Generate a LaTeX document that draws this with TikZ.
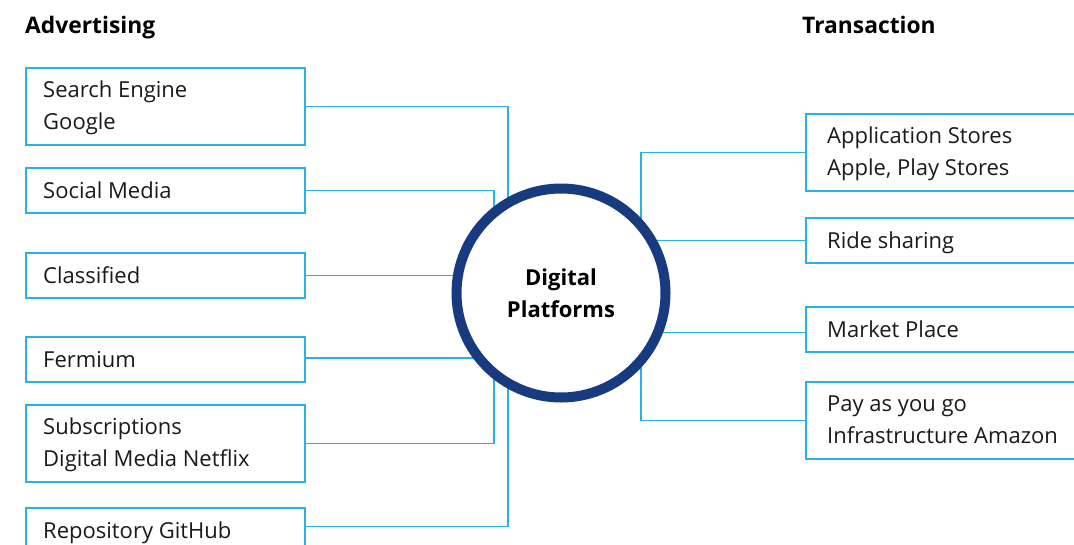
\documentclass[tikz,border=0pt]{standalone}
\usepackage{fontspec}
\setmainfont{Open Sans}
\usetikzlibrary{calc,backgrounds}
\definecolor{wire}{RGB}{41,176,230}
\definecolor{navy}{RGB}{24,58,126}
\definecolor{ink}{RGB}{26,26,26}
\begin{document}
\begin{tikzpicture}[x=1pt,y=-1pt,
  card/.style={draw=wire, line width=1.5pt, fill=white, minimum width=279pt,
    minimum height=45pt, inner sep=0pt, anchor=north west},
  tall/.style={minimum height=77pt},
  lbl/.style={font=\fontsize{22}{32}\selectfont, text=ink, inner sep=0pt,
    align=left, anchor=base west},
  head/.style={font=\fontsize{22.8}{32}\selectfont\bfseries, text=black,
    inner sep=0pt, anchor=base west},
  link/.style={draw=wire, line width=1.5pt},
  hub/.style={circle, draw=navy, line width=10pt, fill=white,
    minimum size=209pt, inner sep=0pt, align=center,
    font=\fontsize{22}{32}\selectfont\bfseries}
]
\useasboundingbox (0,0) rectangle (1074,544);
\clip (0,0) rectangle (1074,544);

% headings
\node[head] (adv) at (25,33) {Advertising};
\node[head] (trn) at (802,33) {Transaction};

% advertising boxes
\node[card, tall] (se)  at (25,67)  {};
\node[card]       (sm)  at (25,167) {};
\node[card]       (cl)  at (25,252) {};
\node[card]       (fe)  at (25,336) {};
\node[card, tall] (sub) at (25,404) {};
\node[card]       (gh)  at (25,507) {};

% labels sit on the baseline of their last line
\node[lbl] (se-t)  at ($(se.west)+(18,23.5)$)  {Search Engine\\Google};
\node[lbl] (sm-t)  at ($(sm.west)+(18,8)$)     {Social Media};
\node[lbl] (cl-t)  at ($(cl.west)+(18,8)$)     {Classified};
\node[lbl] (fe-t)  at ($(fe.west)+(18,8)$)     {Fermium};
\node[lbl] (sub-t) at ($(sub.west)+(18,23.5)$) {Subscriptions\\Digital Media Netflix};
\node[lbl] (gh-t)  at ($(gh.west)+(18,8)$)     {Repository GitHub};

% transaction boxes
\node[card, minimum width=300pt, tall] (as)  at (805,113) {};
\node[card, minimum width=300pt]       (rs)  at (805,217) {};
\node[card, minimum width=300pt]       (mp)  at (805,306) {};
\node[card, minimum width=300pt, tall] (pay) at (805,381) {};

\node[lbl] (as-t)  at ($(as.west)+(22,23.5)$)  {Application Stores\\Apple, Play Stores};
\node[lbl] (rs-t)  at ($(rs.west)+(22,8)$)     {Ride sharing};
\node[lbl] (mp-t)  at ($(mp.west)+(22,8)$)     {Market Place};
\node[lbl] (pay-t) at ($(pay.west)+(22,23.5)$) {Pay as you go\\Infrastructure Amazon};

% central hub
\node[hub] (dp) at (561,293) {Digital\\Platforms};

% bus lines
\coordinate (busa) at (508,0);
\coordinate (busb) at (494,0);
\coordinate (busc) at (641,0);

\begin{scope}[on background layer]
  \draw[link] (se.east) -| (busa |- {$(gh.east)+(0,-4)$}) -- ($(gh.east)+(0,-4)$);
  \draw[link] (sm.east) -| (busb |- sub.east) -- (sub.east);
  \draw[link] (cl.east) -- (cl.east -| dp.center);
  \draw[link] ($(fe.east)+(0,-1.5)$) -- ($(fe.east -| dp.center)+(0,-1.5)$);
  \draw[link] (as.west) -| (busc |- pay.west) -- (pay.west);
  \draw[link] (rs.west) -- (rs.west -| dp.center);
  \draw[link] ($(mp.west)+(0,3)$) -- ($(mp.west -| dp.center)+(0,3)$);
\end{scope}
\end{tikzpicture}
\end{document}
